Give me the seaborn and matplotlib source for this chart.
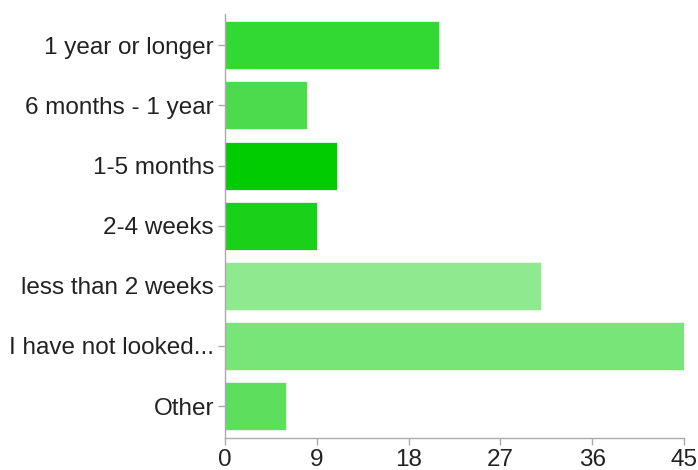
import matplotlib
matplotlib.use('Agg')
import matplotlib.pyplot as plt
import seaborn as sns
import pandas as pd

# survey answers and counts
categories = ['1 year or longer', '6 months - 1 year', '1-5 months', '2-4 weeks',
              'less than 2 weeks', 'I have not looked...', 'Other']
counts = [21, 8, 11, 9, 31, 45, 6]
bar_colors = ['#33d933', '#4cdb4c', '#00cc00', '#19d119', '#8fe98f', '#77e577', '#5ddf5d']
x_ticks = [0, 9, 18, 27, 36, 45]

df = pd.DataFrame({'answer': categories, 'count': counts})

sns.set_style('white')
plt.rcParams['font.family'] = ['Liberation Sans', 'DejaVu Sans']

fig = plt.figure(figsize=(6.98, 4.7), dpi=100)
ax = fig.add_axes([225 / 698, 1 - 438 / 470, (684 - 225) / 698, (438 - 14) / 470])

# saturation=1 so the greens come out as they are given
sns.barplot(data=df, x='count', y='answer', hue='answer', palette=bar_colors,
            orient='h', width=0.8, saturation=1, legend=False, ax=ax,
            edgecolor='#e8fbe8', linewidth=0.6)

ax.set_xlim(0, 45)
ax.set_ylim(6.53, -0.52)
ax.set_xticks(x_ticks)
ax.set_xlabel('')
ax.set_ylabel('')

for side in ['top', 'right']:
    ax.spines[side].set_visible(False)
for side in ['left', 'bottom']:
    ax.spines[side].set_color('#aaaaaa')
    ax.spines[side].set_linewidth(1)

ax.tick_params(axis='both', which='major', length=5, width=1, color='#aaaaaa',
               labelsize=17.5, labelcolor='#222222', pad=3,
               left=True, bottom=True)

fig.savefig('out.png', dpi=100)
